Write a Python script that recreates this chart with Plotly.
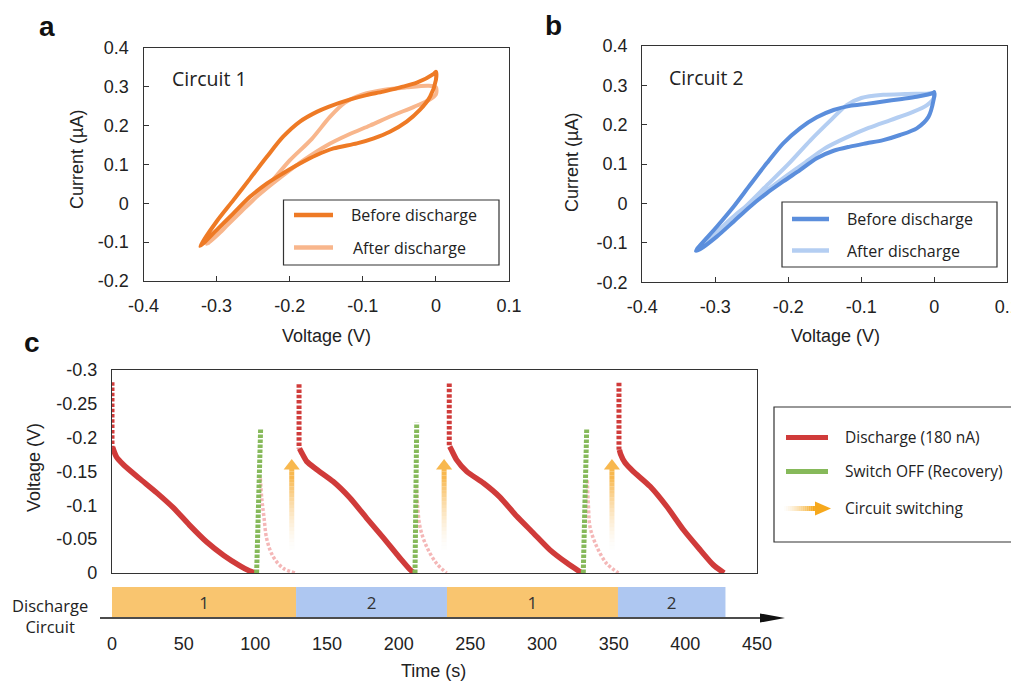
import plotly.graph_objects as go

W, H = 1019, 683
OFF = 8                      # page body margin of the browser
FW, FH = W - OFF, H - OFF    # figure size actually visible
def PX(x): return (x - OFF) / FW
def PY(y): return 1 - (y - OFF) / FH

NUM_FONT = "Liberation Sans, Arial, sans-serif"
TXT_FONT = "Open Sans, Noto Sans, sans-serif"

# ---------------- Panel a (Circuit 1) ----------------
a_before_v = [-0.3225, -0.300, -0.277, -0.254, -0.231, -0.209, -0.186, -0.163, -0.147, -0.117, -0.095, -0.072,
              -0.049, -0.026, -0.0035, 0.0, 0.0, -0.008, -0.022, -0.040, -0.063, -0.085, -0.108, -0.140,
              -0.163, -0.186, -0.209, -0.231, -0.254, -0.277, -0.300, -0.318, -0.3225]
a_before_i = [-0.110, -0.047, 0.008, 0.064, 0.120, 0.171, 0.210, 0.235, 0.248, 0.267, 0.278, 0.287,
              0.298, 0.310, 0.332, 0.338, 0.317, 0.274, 0.240, 0.210, 0.184, 0.167, 0.154, 0.141,
              0.124, 0.102, 0.077, 0.051, 0.017, -0.026, -0.069, -0.103, -0.110]
a_after_v = [-0.313, -0.290, -0.260, -0.230, -0.200, -0.170, -0.145, -0.125, -0.100, -0.070, -0.040, -0.010, 0.0,
             0.0, -0.010, -0.030, -0.060, -0.090, -0.120, -0.150, -0.180, -0.210, -0.240, -0.270, -0.295, -0.313]
a_after_i = [-0.105, -0.065, -0.010, 0.045, 0.110, 0.165, 0.222, 0.258, 0.280, 0.292, 0.298, 0.302, 0.298,
             0.280, 0.265, 0.248, 0.225, 0.200, 0.176, 0.148, 0.112, 0.070, 0.025, -0.025, -0.075, -0.105]

# ---------------- Panel b (Circuit 2) ----------------
b_before_v = [-0.3265, -0.298, -0.275, -0.2525, -0.2297, -0.207, -0.184, -0.161, -0.138, -0.1155, -0.0927,
              -0.070, -0.047, -0.024, -0.0014, 0.0, -0.001, -0.008, -0.024, -0.047, -0.070, -0.0927, -0.1155,
              -0.138, -0.161, -0.184, -0.207, -0.2297, -0.2525, -0.275, -0.298, -0.321, -0.3265]
b_before_i = [-0.120, -0.059, -0.008, 0.047, 0.102, 0.153, 0.191, 0.219, 0.2375, 0.248, 0.253,
              0.259, 0.265, 0.271, 0.281, 0.283, 0.263, 0.220, 0.191, 0.174, 0.161, 0.153, 0.1445,
              0.134, 0.115, 0.085, 0.056, 0.026, -0.008, -0.046, -0.084, -0.116, -0.120]
b_after_v = [-0.325, -0.290, -0.260, -0.230, -0.200, -0.170, -0.140, -0.120, -0.100, -0.070, -0.040, -0.010, 0.0,
             0.0, -0.010, -0.030, -0.060, -0.090, -0.120, -0.150, -0.180, -0.210, -0.240, -0.270, -0.300, -0.325]
b_after_i = [-0.115, -0.060, -0.010, 0.045, 0.100, 0.160, 0.215, 0.250, 0.268, 0.276, 0.278, 0.279, 0.280,
             0.270, 0.250, 0.232, 0.212, 0.192, 0.168, 0.140, 0.100, 0.060, 0.018, -0.025, -0.075, -0.115]

cv_xticks = [-0.4, -0.3, -0.2, -0.1, 0, 0.1]
cv_xtext = ["-0.4", "-0.3", "-0.2", "-0.1", "0", "0.1"]
cv_yticks = [-0.2, -0.1, 0, 0.1, 0.2, 0.3, 0.4]
cv_ytext = ["-0.2", "-0.1", "0", "0.1", "0.2", "0.3", "0.4"]

# ---------------- Panel c (discharge cycles) ----------------
jump_t = [0.0, 130.5, 235.3, 353.7]
jump_top = [-0.282, -0.279, -0.280, -0.281]
jump_bottom = [-0.186, -0.184, -0.187, -0.182]

d1_t = [0.4, 3, 8, 19, 31, 43, 54, 66, 78, 89, 95, 100]
d1_v = [-0.186, -0.172, -0.160, -0.140, -0.119, -0.096, -0.071, -0.046, -0.026, -0.011, -0.004, 0.0]
d2_t = [130.8, 132.3, 135.8, 142.8, 154.4, 166.0, 177.7, 189.3, 200.9, 207.9, 210.9]
d2_v = [-0.184, -0.178, -0.165, -0.153, -0.135, -0.111, -0.081, -0.052, -0.022, -0.005, 0.0]
d3_t = [235.6, 236.6, 240.5, 247.5, 259.1, 270.7, 282.3, 294.0, 305.6, 317.2, 327.7]
d3_v = [-0.187, -0.183, -0.167, -0.150, -0.133, -0.112, -0.084, -0.059, -0.034, -0.015, 0.0]
d4_t = [354.0, 354.8, 357.9, 363.7, 375.4, 387.0, 398.6, 410.2, 419.5, 427.0]
d4_v = [-0.182, -0.176, -0.163, -0.150, -0.128, -0.0985, -0.064, -0.0345, -0.012, 0.0]

rec_t0 = [100.9, 211.4, 328.8]
rec_t1 = [103.7, 212.6, 331.2]
rec_top = [-0.214, -0.222, -0.214]

p1_t = [103.5, 104.5, 106.0, 108.0, 112.5, 119.5, 128.0]
p1_v = [-0.140, -0.110, -0.083, -0.050, -0.024, -0.007, 0.0]
p2_t = [212.3, 213.2, 214.9, 219.5, 226.5, 233.5]
p2_v = [-0.130, -0.100, -0.068, -0.039, -0.014, 0.0]
p3_t = [331.6, 332.4, 333.5, 338.2, 345.1, 353.3]
p3_v = [-0.137, -0.098, -0.068, -0.039, -0.014, 0.0]

arrow_t = [125.4, 231.7, 348.8]
arrow_from = -0.035
arrow_to = -0.170

seg_start = [0.0, 128.4, 233.7, 353.0]
seg_end = [128.4, 233.7, 353.0, 428.0]
seg_label = ["1", "2", "1", "2"]
seg_color = ["#F9C56F", "#AEC7F1", "#F9C56F", "#AEC7F1"]

c_yticks = [-0.3, -0.25, -0.2, -0.15, -0.1, -0.05, 0]
c_ytext = ["-0.3", "-0.25", "-0.2", "-0.15", "-0.1", "-0.05", "0"]
time_ticks = [0, 50, 100, 150, 200, 250, 300, 350, 400, 450]

# colours
OR_D, OR_L = "#EE7A25", "#F8B68C"
BL_D, BL_L = "#5B8EDC", "#B4CEF2"
RED, GREEN, PINK = "#D03B3A", "#86B95A", "rgba(236,135,135,0.6)"
ARROW = "#F8B84E"
ARROW_LEG = "#F6A81C"
FRAME = "#333333"

fig = go.Figure()

def loop(x, y, color, xa, ya):
    fig.add_trace(go.Scatter(x=x, y=y, mode="lines", line=dict(color=color, width=4, shape="spline", smoothing=0.8),
                             xaxis=xa, yaxis=ya, showlegend=False, hoverinfo="skip"))

loop(a_after_v, a_after_i, OR_L, "x", "y")
loop(a_before_v, a_before_i, OR_D, "x", "y")
loop(b_after_v, b_after_i, BL_L, "x2", "y2")
loop(b_before_v, b_before_i, BL_D, "x2", "y2")

# Panel c traces
for tt, vv in [(p1_t, p1_v), (p2_t, p2_v), (p3_t, p3_v)]:
    fig.add_trace(go.Scatter(x=tt, y=vv, mode="lines", line=dict(color=PINK, width=3.5, shape="spline", dash="3px,2px"),
                             xaxis="x3", yaxis="y3", showlegend=False, hoverinfo="skip"))
for i in range(len(jump_t)):
    fig.add_trace(go.Scatter(x=[jump_t[i], jump_t[i]], y=[jump_top[i], jump_bottom[i]], mode="lines",
                             line=dict(color=RED, width=5, dash="3.5px,1.8px"),
                             xaxis="x3", yaxis="y3", showlegend=False, hoverinfo="skip"))
for tt, vv in [(d1_t, d1_v), (d2_t, d2_v), (d3_t, d3_v), (d4_t, d4_v)]:
    fig.add_trace(go.Scatter(x=tt, y=vv, mode="lines", line=dict(color=RED, width=5.5, shape="spline", smoothing=0.6),
                             xaxis="x3", yaxis="y3", showlegend=False, hoverinfo="skip"))
for i in range(len(rec_t0)):
    fig.add_trace(go.Scatter(x=[rec_t0[i], rec_t1[i]], y=[0, rec_top[i]], mode="lines",
                             line=dict(color=GREEN, width=5, dash="3.5px,1.5px"),
                             xaxis="x3", yaxis="y3", showlegend=False, hoverinfo="skip"))

# arrow heads (switching arrows)
v_per_px = 0.3 / 203.0
fig.add_trace(go.Scatter(x=arrow_t, y=[arrow_to + 8 * v_per_px] * len(arrow_t), mode="markers",
                         marker=dict(symbol="triangle-up", size=14, color=ARROW, line=dict(width=0)),
                         xaxis="x3", yaxis="y3", showlegend=False, hoverinfo="skip"))

# discharge-circuit strip
fig.add_trace(go.Bar(y=[0] * len(seg_start), x=[e - s for s, e in zip(seg_start, seg_end)], base=seg_start,
                     orientation="h", width=1, marker=dict(color=seg_color, line=dict(width=0)),
                     text=seg_label, textposition="inside", insidetextanchor="middle", textangle=0,
                     textfont=dict(family=TXT_FONT, size=17, color="#333"),
                     xaxis="x4", yaxis="y4", showlegend=False, hoverinfo="skip"))

shapes = []
# gradient shafts
N = 22
shaft_end = arrow_to + 10 * v_per_px
for t in arrow_t:
    for k in range(N):
        y0 = arrow_from + (shaft_end - arrow_from) * k / N
        y1 = arrow_from + (shaft_end - arrow_from) * (k + 1) / N
        shapes.append(dict(type="line", xref="x3", yref="y3", x0=t, x1=t, y0=y0, y1=y1,
                           line=dict(color=ARROW, width=5), opacity=min(1, ((k + 1) / N) ** 1.6 * 1.15)))

# time axis arrow
shapes.append(dict(type="line", xref="paper", yref="paper", x0=PX(100), x1=PX(770), y0=PY(618), y1=PY(618),
                   line=dict(color="#111", width=1.6)))
shapes.append(dict(type="path", xref="paper", yref="paper",
                   path=f"M{PX(760)},{PY(613.5)} L{PX(785)},{PY(618)} L{PX(760)},{PY(622.5)} Z",
                   fillcolor="#111", line=dict(width=0)))

# legends a & b
def legend_box(x0, x1, y0, y1):
    shapes.append(dict(type="rect", xref="paper", yref="paper", x0=PX(x0), x1=PX(x1), y0=PY(y1), y1=PY(y0),
                       line=dict(color=FRAME, width=1.2), fillcolor="white"))

def legend_line(x0, x1, y, color, width=4.5):
    shapes.append(dict(type="line", xref="paper", yref="paper", x0=PX(x0), x1=PX(x1), y0=PY(y), y1=PY(y),
                       line=dict(color=color, width=width)))

legend_box(283.5, 499, 200, 265)
legend_line(294, 333, 215, OR_D)
legend_line(294, 333, 247.5, OR_L)
legend_box(782, 997, 202, 267)
legend_line(792, 829, 219, BL_D)
legend_line(792, 829, 250.5, BL_L)

# legend c
legend_box(774, 1017, 407, 542)
legend_line(786, 828, 437.5, RED, 5)
legend_line(786, 828, 471.5, GREEN, 5)
M = 16
for k in range(M):
    xa = 784 + (817 - 784) * k / M
    xb = 784 + (817 - 784) * (k + 1) / M
    shapes.append(dict(type="line", xref="paper", yref="paper", x0=PX(xa), x1=PX(xb), y0=PY(508.5), y1=PY(508.5),
                       line=dict(color=ARROW_LEG, width=5), opacity=min(1, ((k + 1) / M) ** 1.5 * 1.1)))
shapes.append(dict(type="path", xref="paper", yref="paper",
                   path=f"M{PX(815)},{PY(501.5)} L{PX(831)},{PY(508.5)} L{PX(815)},{PY(515.5)} Z",
                   fillcolor=ARROW_LEG, line=dict(width=0)))

ann = []
def txt(x, y, s, size=16, family=TXT_FONT, xanchor="left", angle=0, bold=False, color="#222"):
    ann.append(dict(x=PX(x), y=PY(y), xref="paper", yref="paper", text=(f"<b>{s}</b>" if bold else s),
                    showarrow=False, xanchor=xanchor, yanchor="middle", textangle=angle,
                    font=dict(family=family, size=size, color=color)))

txt(349, 215, "Before discharge", 16)
txt(351, 248, "After discharge", 16)
txt(845, 219, "Before discharge", 16)
txt(845, 251, "After discharge", 16)
txt(843, 437, "Discharge (180 nA)", 15.5)
txt(843, 471, "Switch OFF (Recovery)", 15.5)
txt(843, 508, "Circuit switching", 15.5)
txt(170, 79, "Circuit 1", 19.5)
txt(667, 77, "Circuit 2", 19.5)

txt(77, 160, "Current (µA)", 18, NUM_FONT, "center", -90)
txt(572, 163, "Current (µA)", 18, NUM_FONT, "center", -90)
txt(326, 336, "Voltage (V)", 18, NUM_FONT, "center")
txt(835, 336, "Voltage (V)", 18, NUM_FONT, "center")
txt(34, 468, "Voltage (V)", 18, NUM_FONT, "center", -90)
txt(433, 671, "Time (s)", 18, NUM_FONT, "center")
ann.append(dict(x=PX(50), y=PY(615.5), xref="paper", yref="paper", text="Discharge<br>Circuit",
                showarrow=False, xanchor="center", yanchor="middle",
                font=dict(family=TXT_FONT, size=16.5, color="#222")))

txt(47, 27, "a", 28, NUM_FONT, "center", bold=True, color="#111")
txt(553, 25, "b", 28, NUM_FONT, "center", bold=True, color="#111")
txt(32, 342, "c", 28, NUM_FONT, "center", bold=True, color="#111")

tickfont = dict(family=NUM_FONT, size=18, color="#222")
frame = dict(showgrid=False, zeroline=False, showline=True, linecolor=FRAME, linewidth=1.2, mirror=True,
             tickfont=tickfont, automargin=False, ticklabeloverflow="allow")

fig.update_layout(
    template="none",
    width=FW, height=FH, margin=dict(l=0, r=0, t=0, b=0, pad=0, autoexpand=False),
    paper_bgcolor="white", plot_bgcolor="white", showlegend=False,
    xaxis=dict(domain=[PX(143.5), PX(509)], range=[-0.4, 0.1], anchor="y", tickvals=cv_xticks, ticktext=cv_xtext,
               ticks="inside", ticklen=5, tickcolor=FRAME, ticklabelstandoff=8, **frame),
    yaxis=dict(domain=[PY(281), PY(47.7)], range=[-0.2, 0.4], anchor="x", tickvals=cv_yticks, ticktext=cv_ytext,
               ticks="inside", ticklen=5, tickcolor=FRAME, ticklabelstandoff=10, **frame),
    xaxis2=dict(domain=[PX(642.3), PX(1007.3)], range=[-0.4, 0.1], anchor="y2", tickvals=cv_xticks, ticktext=cv_xtext,
                ticks="inside", ticklen=5, tickcolor=FRAME, ticklabelstandoff=8, **frame),
    yaxis2=dict(domain=[PY(282.3), PY(46)], range=[-0.2, 0.4], anchor="x2", tickvals=cv_yticks, ticktext=cv_ytext,
                ticks="inside", ticklen=5, tickcolor=FRAME, ticklabelstandoff=10, **frame),
    xaxis3=dict(domain=[PX(112), PX(757)], range=[0, 450], anchor="y3", showticklabels=False, ticks="", **frame),
    yaxis3=dict(domain=[PY(573), PY(370)], range=[0, -0.3], anchor="x3", tickvals=c_yticks, ticktext=c_ytext,
                ticks="", ticklabelstandoff=10, **frame),
    xaxis4=dict(domain=[PX(112), PX(757)], range=[0, 450], anchor="y4", tickvals=time_ticks,
                ticks="", showline=False, showgrid=False, zeroline=False, tickfont=tickfont,
                ticklabelstandoff=14, automargin=False, ticklabeloverflow="allow"),
    yaxis4=dict(domain=[PY(617), PY(587)], range=[-0.5, 0.5], anchor="x4", visible=False, automargin=False),
    shapes=shapes, annotations=ann,
)

fig.write_html("out.html")
